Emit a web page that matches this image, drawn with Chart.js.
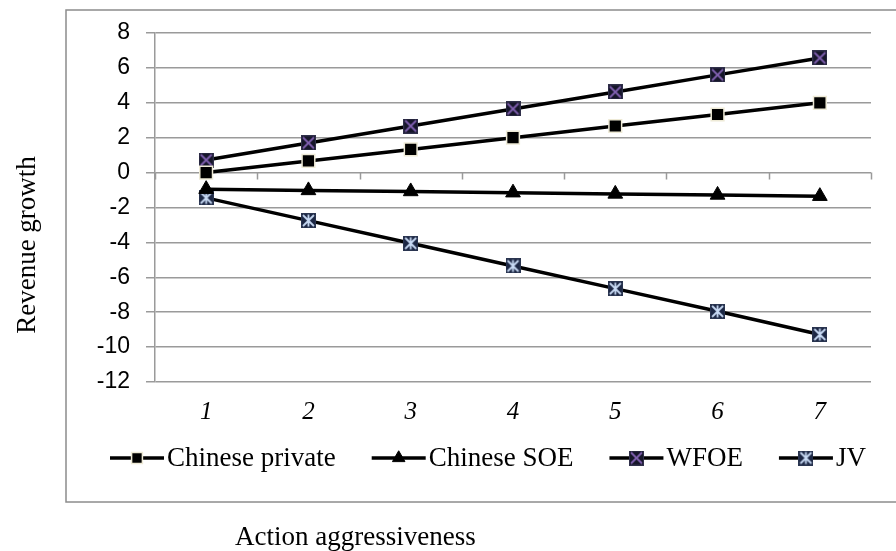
<!DOCTYPE html>
<html><head><meta charset="utf-8">
<script src="https://cdn.jsdelivr.net/npm/chart.js@4/dist/chart.umd.min.js"></script>
<style>html,body{margin:0;padding:0;background:#fff;}#wrap{position:relative;width:896px;height:551px;}</style>
</head><body><div id="wrap"><canvas id="c" width="896" height="551"></canvas></div>
<script>
const categories = ['1','2','3','4','5','6','7'];
const seriesNames = ['Chinese private','Chinese SOE','WFOE','JV'];
const chinesePrivate = [0, 0.67, 1.33, 2.0, 2.67, 3.33, 4.0];
const chineseSOE = [-0.95, -1.02, -1.08, -1.15, -1.22, -1.28, -1.35];
const wfoe = [0.72, 1.70, 2.67, 3.65, 4.62, 5.60, 6.57];
const jv = [-1.45, -2.75, -4.05, -5.35, -6.65, -7.95, -9.28];
const yMin = -12, yMax = 8, yStep = 2;
const yAxisTitle = 'Revenue growth';
const xAxisTitle = 'Action aggressiveness';

function crossMarker(fill, border, lineColor, withVertical) {
  const s = 15;
  const c = document.createElement('canvas');
  c.width = s; c.height = s;
  const g = c.getContext('2d');
  g.fillStyle = border; g.fillRect(0, 0, s, s);
  g.fillStyle = fill; g.fillRect(1, 1, s - 2, s - 2);
  g.strokeStyle = lineColor; g.lineWidth = 1.8;
  g.beginPath();
  g.moveTo(2, 2); g.lineTo(s - 2, s - 2);
  g.moveTo(s - 2, 2); g.lineTo(2, s - 2);
  if (withVertical) { g.moveTo(s / 2, 1.5); g.lineTo(s / 2, s - 1.5); }
  g.stroke();
  return c;
}
const wfoeMarker = crossMarker('#16162a', '#30304a', '#8060b0', false);
const jvMarker = crossMarker('#1c2744', '#2a3550', '#c8daf4', true);

const datasets = [
  { label: seriesNames[0], data: chinesePrivate, borderColor: '#000', borderWidth: 3.5,
    pointStyle: 'rect', pointRadius: 9, pointBackgroundColor: '#000', pointBorderColor: '#eeead6', pointBorderWidth: 1.5 },
  { label: seriesNames[1], data: chineseSOE, borderColor: '#000', borderWidth: 3.5,
    pointStyle: 'triangle', pointRadius: 8.5, pointBackgroundColor: '#000', pointBorderColor: '#000', pointBorderWidth: 1 },
  { label: seriesNames[2], data: wfoe, borderColor: '#000', borderWidth: 3.5,
    pointStyle: wfoeMarker, pointRadius: 8 },
  { label: seriesNames[3], data: jv, borderColor: '#000', borderWidth: 3.5,
    pointStyle: jvMarker, pointRadius: 8 }
];

const decor = {
  id: 'decor',
  beforeDatasetsDraw(chart) {
    const ctx = chart.ctx, x = chart.scales.x, y = chart.scales.y;
    const y0 = y.getPixelForValue(0);
    const sp = x.getPixelForValue(1) - x.getPixelForValue(0);
    ctx.save();
    ctx.strokeStyle = '#9a9a9a'; ctx.lineWidth = 1.5;
    ctx.beginPath();
    for (let i = 0; i <= categories.length; i++) {
      const px = Math.round(x.getPixelForValue(i) - sp / 2) + 0.5;
      ctx.moveTo(px, y0); ctx.lineTo(px, y0 + 7);
    }
    ctx.stroke();
    ctx.restore();
  },
  afterDraw(chart) {
    const ctx = chart.ctx;
    ctx.save();
    // outer frame
    ctx.strokeStyle = '#8c8c8c'; ctx.lineWidth = 1.5;
    ctx.strokeRect(66, 10, 840, 492);
    // axis titles
    ctx.fillStyle = '#000';
    ctx.font = '27px "Liberation Serif"';
    ctx.textBaseline = 'alphabetic'; ctx.textAlign = 'left';
    ctx.fillText(xAxisTitle, 235, 545);
    ctx.save();
    ctx.translate(35, 245); ctx.rotate(-Math.PI / 2);
    ctx.textAlign = 'center';
    ctx.fillText(yAxisTitle, 0, 0);
    ctx.restore();
    // legend
    const ly = 458;
    let lx = 110;
    chart.data.datasets.forEach((ds) => {
      ctx.strokeStyle = ds.borderColor; ctx.lineWidth = ds.borderWidth;
      ctx.beginPath(); ctx.moveTo(lx, ly); ctx.lineTo(lx + 54, ly); ctx.stroke();
      ctx.fillStyle = ds.pointBackgroundColor || '#000';
      ctx.strokeStyle = ds.pointBorderColor || '#000';
      ctx.lineWidth = ds.pointBorderWidth || 0;
      const r = typeof ds.pointStyle === 'string' ? ds.pointRadius * 0.85 : ds.pointRadius * 0.85;
      Chart.helpers.drawPoint(ctx, {
        pointStyle: ds.pointStyle, radius: r, rotation: 0,
        borderWidth: ds.pointBorderWidth || 0
      }, lx + 27, ly);
      ctx.fillStyle = '#000';
      ctx.font = '27px "Liberation Serif"';
      ctx.textAlign = 'left'; ctx.textBaseline = 'middle';
      ctx.fillText(ds.label, lx + 57, ly + 1);
      lx += 57 + ctx.measureText(ds.label).width + 36;
    });
    ctx.restore();
  }
};

new Chart(document.getElementById('c'), {
  type: 'line',
  data: { labels: categories, datasets },
  options: {
    responsive: false, animation: false,
    layout: { padding: { left: 0, right: 25, top: 33, bottom: 0 } },
    plugins: { legend: { display: false }, tooltip: { enabled: false } },
    elements: { line: { tension: 0, fill: false } },
    scales: {
      x: {
        type: 'category', offset: true,
        grid: { display: false, drawTicks: false }, border: { display: false },
        ticks: { font: { family: 'Liberation Serif', size: 25, style: 'italic' }, color: '#000', padding: 15, maxRotation: 0 },
        afterFit(s) { s.height = 169; }
      },
      y: {
        min: yMin, max: yMax,
        ticks: { stepSize: yStep, font: { family: 'Liberation Sans', size: 23 }, color: '#000', padding: 16 },
        grid: { color: '#9a9a9a', lineWidth: 1.5, tickLength: 9 },
        border: { color: '#9a9a9a', width: 1.5 },
        afterFit(s) { s.width = 155; }
      }
    }
  },
  plugins: [decor]
});
</script></body></html>
